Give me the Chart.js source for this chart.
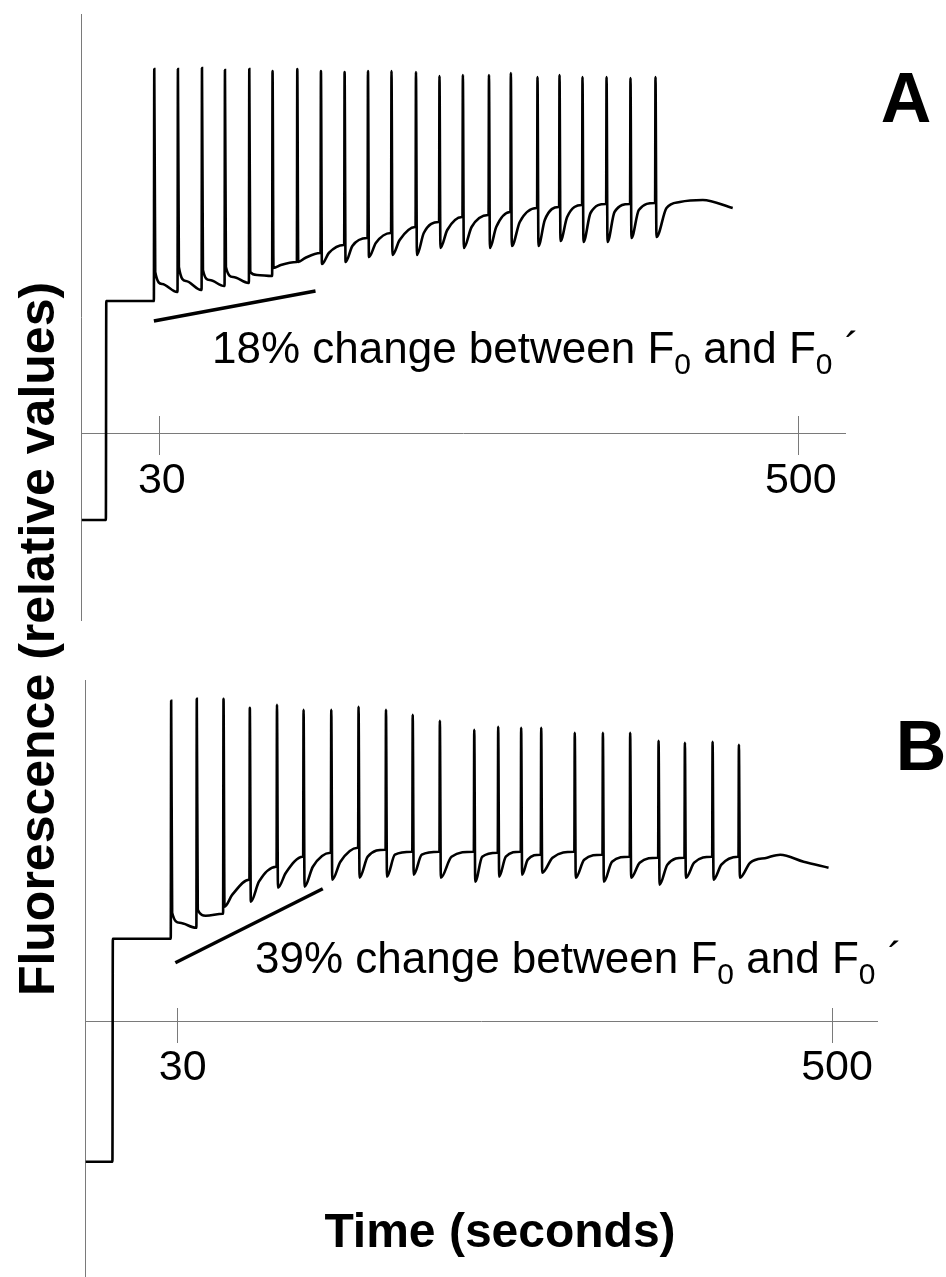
<!DOCTYPE html>
<html>
<head>
<meta charset="utf-8">
<script src="https://cdn.jsdelivr.net/npm/chart.js@4.4.1/dist/chart.umd.min.js"></script>
<style>
    html, body { margin: 0; padding: 0; background: #fff; }
    #page { position: relative; width: 946px; height: 1277px; overflow: hidden; font-family: "Liberation Sans", Arial, sans-serif; color: #000; }
    canvas { position: absolute; left: 0; }
    .txt { position: absolute; line-height: 1; white-space: nowrap; }
    .note { font-size: 44px; }
    .sub { font-size: 30px; vertical-align: -11px; }
    .panel { font-weight: bold; font-size: 70px; width: 100px; text-align: center; }
</style>
</head>
<body>
<div id="page">
    <canvas id="chart_a" width="946" height="640" style="top:0"></canvas>
    <canvas id="chart_b" width="946" height="617" style="top:660px"></canvas>

    <div class="txt panel" style="left:856px; top:62.7px">A</div>
    <div class="txt panel" style="left:871px; top:710.7px">B</div>

    <div class="txt note" style="left:212px; top:325.8px">18% change between F<span class="sub">0</span> and F<span class="sub">0</span> ´</div>
    <div class="txt note" style="left:255px; top:935.5px">39% change between F<span class="sub">0</span> and F<span class="sub">0</span> ´</div>

    <div class="txt" style="left:-333px; top:614px; width:740px; height:50px; text-align:center; font-weight:bold; font-size:50px; transform:rotate(-90deg)">Fluorescence (relative values)</div>
    <div class="txt" style="left:300px; top:1207.4px; width:400px; text-align:center; font-weight:bold; font-size:48px">Time (seconds)</div>
</div>
<script>
// tick labels shared by both panels (seconds)
const xTicks = [30, 500];

// ---- panel A ----
const darkTimesA = [-27.4, -9.7];          // trace start, measuring light on
const baseLevelsA = [-0.86, 1.33];         // dark level, F0
const pulseTimesA = [25.6, 43.0, 60.7, 77.6, 95.5, 112.6, 130.8, 148.2, 165.6, 182.8, 200.1,
    218.1, 235.4, 252.6, 271.8, 287.9, 307.5, 323.7, 340.6, 358.3, 375.9, 394.3];
const pulsePeaksA = [3.65, 3.65, 3.66, 3.64, 3.65, 3.63, 3.65, 3.63, 3.62, 3.63, 3.63,
    3.62, 3.58, 3.59, 3.59, 3.61, 3.57, 3.59, 3.57, 3.57, 3.56, 3.57];
const afterPulseA = [1.62, 1.67, 1.64, 1.67, 1.62, 1.66, 1.72, 1.70, 1.72, 1.77, 1.79,
    1.79, 1.86, 1.86, 1.86, 1.88, 1.88, 1.93, 1.92, 1.92, 1.96, 1.97];
const midDarkA = [1.50, 1.53, 1.54, 1.57, 1.59, 1.69, 1.76, 1.81, 1.88, 1.91, 1.94,
    2.01, 2.04, 2.07, 2.07, 2.12, 2.14, 2.17, 2.21, 2.22, 2.24];
const beforePulseA = [1.42, 1.44, 1.48, 1.51, 1.58, 1.72, 1.81, 1.89, 1.96, 2.01, 2.07,
    2.12, 2.17, 2.19, 2.22, 2.26, 2.27, 2.29, 2.30, 2.30, 2.31];
const tailTimesA = [402.7, 412.5, 429.4, 451.4];
const tailLevelsA = [2.26, 2.32, 2.34, 2.26];
const f0LineTimesA = [25.6, 144.5];
const f0LineLevelsA = [1.13, 1.43];

// ---- panel B ----
const darkTimesB = [-36.1, -16.9];
const baseLevelsB = [-1.40, 0.83];
const pulseTimesB = [25.0, 43.4, 62.6, 81.5, 101.0, 120.1, 140.0, 159.6, 179.3, 198.5, 218.0,
    242.7, 259.9, 276.4, 290.8, 314.9, 335.1, 354.7, 375.1, 394.0, 413.9, 432.8];
const pulsePeaksB = [3.21, 3.23, 3.23, 3.14, 3.17, 3.12, 3.12, 3.15, 3.12, 3.07, 3.01,
    2.92, 2.95, 2.94, 2.94, 2.89, 2.89, 2.89, 2.81, 2.79, 2.80, 2.77];
const afterPulseB = [1.09, 1.12, 1.15, 1.20, 1.34, 1.35, 1.42, 1.44, 1.45, 1.47, 1.44,
    1.40, 1.45, 1.47, 1.49, 1.44, 1.40, 1.44, 1.37, 1.44, 1.42, 1.44];
const midDarkB = [0.99, 1.06, 1.27, 1.40, 1.49, 1.55, 1.60, 1.65, 1.67, 1.67, 1.65,
    1.65, 1.65, 1.62, 1.64, 1.62, 1.60, 1.59, 1.57, 1.59, 1.57];
const beforePulseB = [0.94, 1.08, 1.42, 1.55, 1.65, 1.69, 1.74, 1.72, 1.70, 1.70, 1.70,
    1.69, 1.70, 1.67, 1.70, 1.67, 1.65, 1.64, 1.64, 1.65, 1.65];
const tailTimesB = [441.2, 453.3, 462.8, 479.6, 497.5];
const tailLevelsB = [1.59, 1.64, 1.67, 1.60, 1.54];
const f0LineTimesB = [28.3, 134.2];
const f0LineLevelsB = [0.59, 1.33];

const axisGrey = '#7a7a7a';

function buildTrace(darkTimes, levels, pulses, peaks, after, mids, before, tailTimes, tailLevels) {
    let points = [
        {x: darkTimes[0], y: levels[0]},
        {x: darkTimes[1], y: levels[0]},
        {x: darkTimes[1] + 0.3, y: levels[1]}
    ];
    let prev = levels[1];
    pulses.forEach((t, i) => {
        points.push({x: t, y: prev});
        points.push({x: t + 0.3, y: peaks[i]});
        points.push({x: t + 1, y: after[i]});
        if (i < pulses.length - 1) {
            let next = pulses[i + 1];
            points.push({x: t + (next - t) * 0.35, y: mids[i]});
            points.push({x: next - 0.3, y: before[i]});
            prev = before[i];
        }
    });
    tailTimes.forEach((t, i) => points.push({x: t, y: tailLevels[i]}));
    return points;
}

function setTicks(scale) {
    scale.ticks = xTicks.map((v) => ({value: v}));
}

function drawPanel(chartId, trace, f0Line, xRange, yRange, padding, upTick, labelShift) {
    new Chart(document.querySelector(`#${chartId}`), {
        type: 'line',
        data: {
            datasets: [{
                data: trace,
                borderColor: '#000',
                borderWidth: 2.6,
                pointRadius: 0,
                cubicInterpolationMode: 'monotone'
            }, {
                data: f0Line,
                borderColor: '#000',
                borderWidth: 3.5,
                pointRadius: 0
            }]
        },
        options: {
            responsive: false,
            animation: false,
            events: [],
            layout: {padding: padding},
            plugins: {
                legend: {display: false},
                tooltip: {enabled: false}
            },
            scales: {
                x: {
                    type: 'linear',
                    min: xRange[0],
                    max: xRange[1],
                    position: {y: 0},
                    afterBuildTicks: setTicks,
                    grid: {drawOnChartArea: false, tickLength: 21, color: axisGrey},
                    border: {color: axisGrey},
                    ticks: {
                        color: '#000',
                        padding: 0,
                        labelOffset: labelShift,
                        font: {family: '"Liberation Sans", Arial, sans-serif', size: 43}
                    }
                },
                x2: {
                    type: 'linear',
                    axis: 'x',
                    min: xRange[0],
                    max: xRange[1],
                    position: {y: 0},
                    afterBuildTicks: setTicks,
                    grid: {drawOnChartArea: false, tickLength: -upTick, color: axisGrey},
                    border: {display: false},
                    ticks: {display: false}
                },
                y: {
                    type: 'linear',
                    min: yRange[0],
                    max: yRange[1],
                    grid: {display: false, drawTicks: false},
                    border: {color: axisGrey},
                    ticks: {display: false}
                }
            }
        }
    });
}

let traceA = buildTrace(darkTimesA, baseLevelsA, pulseTimesA, pulsePeaksA, afterPulseA,
    midDarkA, beforePulseA, tailTimesA, tailLevelsA);
let lineA = f0LineTimesA.map((t, i) => ({x: t, y: f0LineLevelsA[i]}));
drawPanel('chart_a', traceA, lineA, [-28, 534], [-1.86, 4.20],
    {left: 81, right: 101, top: 14, bottom: 20}, 18, 2);

let traceB = buildTrace(darkTimesB, baseLevelsB, pulseTimesB, pulsePeaksB, afterPulseB,
    midDarkB, beforePulseB, tailTimesB, tailLevelsB);
let lineB = f0LineTimesB.map((t, i) => ({x: t, y: f0LineLevelsB[i]}));
drawPanel('chart_b', traceB, lineB, [-36.6, 532.3], [-2.553, 3.417],
    {left: 85, right: 69, top: 20, bottom: 0}, 14, 5);
</script>
</body>
</html>
